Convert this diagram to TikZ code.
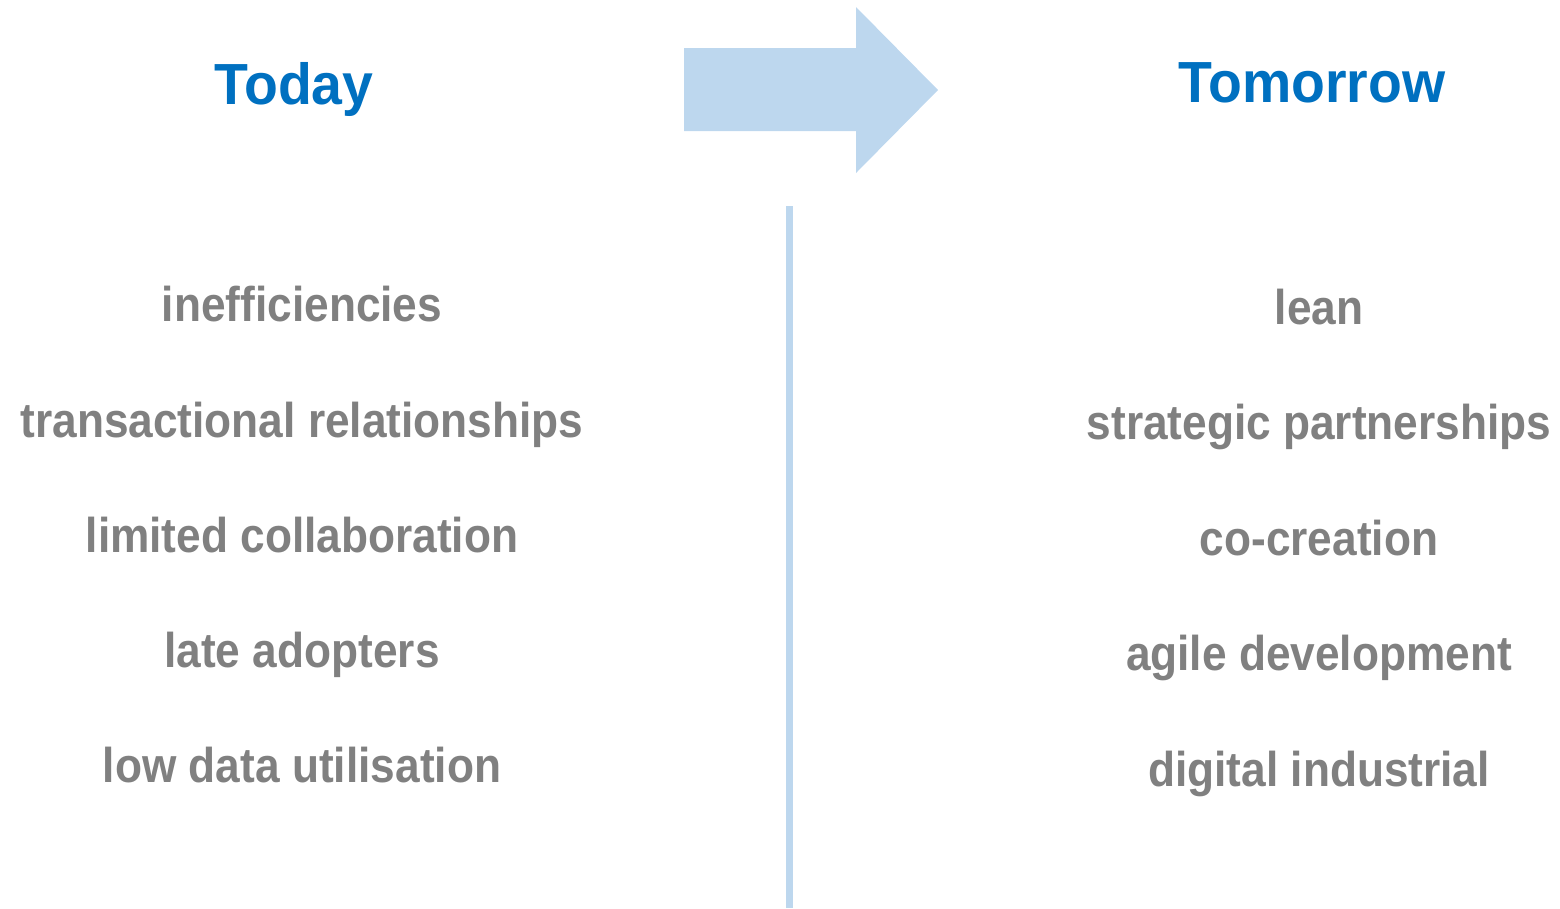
\documentclass[tikz,border=0pt]{standalone}
\usepackage{fontspec}
\setmainfont{Liberation Sans}
\newfontfamily\itemfont[FakeStretch=0.905]{Liberation Sans}
\newfontfamily\headfont[FakeStretch=0.955]{Liberation Sans}
\definecolor{headblue}{HTML}{0070C0}
\definecolor{lightblue}{HTML}{BDD7EE}
\definecolor{itemgray}{HTML}{808080}
\begin{document}
\begin{tikzpicture}[x=0.01cm,y=-0.01cm,
  head/.style={anchor=base,inner sep=0pt,text=headblue,font=\headfont\bfseries\fontsize{16.5pt}{18pt}\selectfont},
  item/.style={anchor=base,inner sep=0pt,text=itemgray,font=\itemfont\bfseries\fontsize{13.9pt}{16pt}\selectfont}]
\useasboundingbox (0,0) rectangle (1560,908);
% arrow
\fill[lightblue] (684,48) -- (856,48) -- (856,7) -- (938,90) -- (856,173) -- (856,131) -- (684,131) -- cycle;
% divider
\coordinate (dtop) at (789.5,206);
\coordinate (dbot) at (789.5,908);
\draw[lightblue,line width=0.07cm] (dtop) -- (dbot);
% headings
\node[head] (today) at (294,104) {Today};
\node[head] (tomorrow) at (1312,102) {Tomorrow};
% left items
\node[item] (l1) at (302,321) {inefficiencies};
\node[item] (l2) at (302,437) {transactional relationships};
\node[item] (l3) at (302,552) {limited collaboration};
\node[item] (l4) at (302,667) {late adopters};
\node[item] (l5) at (302,782) {low data utilisation};
% right items
\node[item] (r1) at (1319,324) {lean};
\node[item] (r2) at (1319,439) {strategic partnerships};
\node[item] (r3) at (1319,555) {co-creation};
\node[item] (r4) at (1319,670) {agile development};
\node[item] (r5) at (1319,786) {digital industrial};
\end{tikzpicture}
\end{document}
